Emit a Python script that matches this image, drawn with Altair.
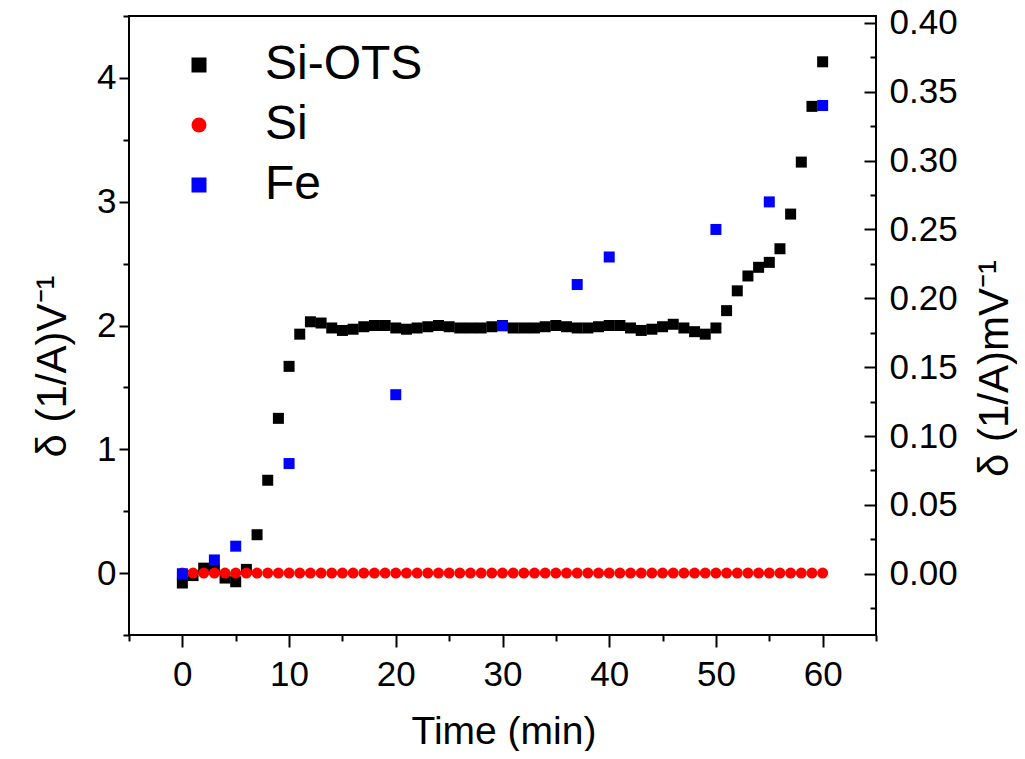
import altair as alt
import pandas as pd

# ---------------- data ----------------
time_min = [0, 1, 2, 3, 4, 5, 6, 7, 8, 9, 10, 11, 12, 13, 14, 15, 16, 17, 18, 19, 20,
            21, 22, 23, 24, 25, 26, 27, 28, 29, 30, 31, 32, 33, 34, 35, 36, 37, 38, 39, 40,
            41, 42, 43, 44, 45, 46, 47, 48, 49, 50, 51, 52, 53, 54, 55, 56, 57, 58, 59, 60]

si_ots_vals = [-0.08, -0.02, 0.04, 0.03, -0.04, -0.07, 0.03, 0.31, 0.75, 1.25, 1.67,
               1.93, 2.03, 2.02, 1.98, 1.96, 1.97, 1.99, 2.00, 2.00, 1.98,
               1.97, 1.98, 1.99, 2.00, 1.99, 1.98, 1.98, 1.98, 1.99, 2.00,
               1.98, 1.98, 1.98, 1.99, 2.00, 1.99, 1.98, 1.98, 1.99, 2.00,
               2.00, 1.98, 1.96, 1.97, 1.99, 2.01, 1.98, 1.95, 1.93, 1.98,
               2.12, 2.28, 2.40, 2.47, 2.51, 2.62, 2.90, 3.32, 3.77, 4.13]

si_vals = [0.0, 0.0, 0.0, 0.0, 0.0, 0.0, 0.0, 0.0, 0.0, 0.0, 0.0,
           0.0, 0.0, 0.0, 0.0, 0.0, 0.0, 0.0, 0.0, 0.0, 0.0,
           0.0, 0.0, 0.0, 0.0, 0.0, 0.0, 0.0, 0.0, 0.0, 0.0,
           0.0, 0.0, 0.0, 0.0, 0.0, 0.0, 0.0, 0.0, 0.0, 0.0,
           0.0, 0.0, 0.0, 0.0, 0.0, 0.0, 0.0, 0.0, 0.0, 0.0,
           0.0, 0.0, 0.0, 0.0, 0.0, 0.0, 0.0, 0.0, 0.0, 0.0]

fe_time = [0, 3, 5, 10, 20, 30, 37, 40, 50, 55, 60]
fe_vals = [0.00, 0.01, 0.02, 0.08, 0.13, 0.18, 0.21, 0.23, 0.25, 0.27, 0.34]

series_names = ["Si-OTS", "Si", "Fe"]
series_colors = ["#000000", "#ff0000", "#0000ff"]
series_shapes = ["square", "circle", "square"]

# tick positions
x_major = [0, 10, 20, 30, 40, 50, 60]
x_minor = [-5, 5, 15, 25, 35, 45, 55, 65]
yl_major = [0, 1, 2, 3, 4]
yl_minor = [-0.5, 0.5, 1.5, 2.5, 3.5, 4.5]
yr_major = [0.00, 0.05, 0.10, 0.15, 0.20, 0.25, 0.30, 0.35, 0.40]
yr_minor = [-0.025, 0.025, 0.075, 0.125, 0.175, 0.225, 0.275, 0.325, 0.375]

X_DOMAIN = [-5, 65]
YL_DOMAIN = [-0.5, 4.5]
YR_DOMAIN = [-0.0445, 0.405]

FONT = "Liberation Sans"
TICK_FS = 35
XTITLE_FS = 39
YTITLE_FS = 42
W, H = 747, 619

# ---------------- tables ----------------
left_df = pd.DataFrame({
    "t": time_min + time_min,
    "v": si_ots_vals + si_vals,
    "series": [series_names[0]] * len(time_min) + [series_names[1]] * len(time_min),
})
fe_df = pd.DataFrame({"t": fe_time, "v": fe_vals, "series": [series_names[2]] * len(fe_time)})
xminor_df = pd.DataFrame({"t": x_minor})
ylminor_df = pd.DataFrame({"v": yl_minor})
yrminor_df = pd.DataFrame({"v": yr_minor})

legend = alt.Legend(
    title=None, orient="none", legendX=46, legendY=25,
    labelFontSize=48, labelFont=FONT, labelColor="black",
    symbolSize=225, symbolStrokeWidth=0, rowPadding=12, labelOffset=42,
    padding=0, labelLimit=400,
)
color = alt.Color("series:N", scale=alt.Scale(domain=series_names, range=series_colors), legend=legend)
shape = alt.Shape("series:N", scale=alt.Scale(domain=series_names, range=series_shapes), legend=legend)

xscale = alt.Scale(domain=X_DOMAIN, nice=False, zero=False)
ylscale = alt.Scale(domain=YL_DOMAIN, nice=False, zero=False)
yrscale = alt.Scale(domain=YR_DOMAIN, nice=False, zero=False)

layer_left = alt.Chart(left_df).mark_point(filled=True, size=121, opacity=1, strokeWidth=0).encode(
    x=alt.X("t:Q", scale=xscale, axis=alt.Axis(
        orient="bottom", values=x_major, format="d", tickSize=12, labelPadding=10,
        labelFontSize=TICK_FS, title="Time (min)", titleFontSize=XTITLE_FS,
        titleX=W / 2 + 1, titleY=108, titleAlign="center", titleBaseline="alphabetic")),
    y=alt.Y("v:Q", scale=ylscale, axis=alt.Axis(
        orient="left", values=yl_major, format="d", tickSize=10, labelPadding=3,
        labelFontSize=TICK_FS, title="δ (1/A)V⁻¹", titleFontSize=YTITLE_FS,
        titleAngle=270, titleX=-64, titleY=350, titleAlign="center", titleBaseline="alphabetic")),
    color=color,
    shape=shape,
)

layer_fe = alt.Chart(fe_df).mark_point(filled=True, size=121, opacity=1, strokeWidth=0).encode(
    x=alt.X("t:Q", scale=xscale, axis=None),
    y=alt.Y("v:Q", scale=yrscale, axis=alt.Axis(
        orient="right", values=yr_major, format=".2f", tickSize=12, offset=-12, labelPadding=13,
        labelFontSize=TICK_FS, title="δ (1/A)mV⁻¹", titleFontSize=YTITLE_FS,
        titleAngle=270, titleX=143, titleY=352, titleAlign="center", titleBaseline="alphabetic")),
    color=color,
    shape=shape,
)

layer_xminor = alt.Chart(xminor_df).mark_point(opacity=0).encode(
    x=alt.X("t:Q", scale=xscale, axis=alt.Axis(
        orient="bottom", values=x_minor, tickSize=6, labels=False, title=None)),
    y=alt.value(0),
)

layer_ylminor = alt.Chart(ylminor_df).mark_point(opacity=0).encode(
    x=alt.value(0),
    y=alt.Y("v:Q", scale=ylscale, axis=alt.Axis(
        orient="left", values=yl_minor, tickSize=6, labels=False, title=None)),
)

layer_yrminor = alt.Chart(yrminor_df).mark_point(opacity=0).encode(
    x=alt.value(0),
    y=alt.Y("v:Q", scale=yrscale, axis=alt.Axis(
        orient="right", values=yr_minor, tickSize=6, offset=-6, labels=False, title=None)),
)

chart = alt.layer(
    layer_left, layer_fe, layer_xminor, layer_ylminor, layer_yrminor
).resolve_scale(
    x="independent", y="independent", color="shared", shape="shared"
).resolve_axis(
    x="independent", y="independent"
).properties(
    width=W, height=H,
    padding={"left": 121, "top": 8, "right": 141, "bottom": 116},
    autosize=alt.AutoSizeParams(type="none"),
).configure_view(
    stroke="black", strokeWidth=2
).configure_axis(
    domain=False, grid=False, tickColor="black", tickWidth=2,
    labelColor="black", titleColor="black", labelFont=FONT, titleFont=FONT,
    titleFontWeight="normal", labelFlush=False, labelOverlap=False,
)

chart.save("out.html", embed_options={"renderer": "svg", "actions": False})
